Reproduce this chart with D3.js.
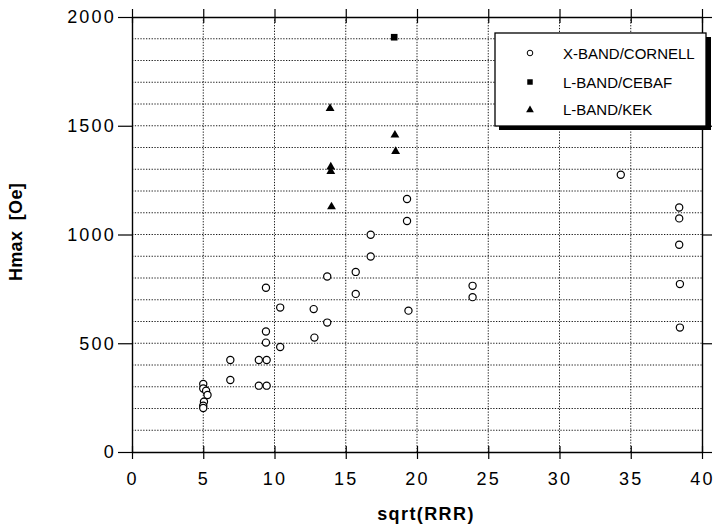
<!DOCTYPE html>
<html>
<head>
<meta charset="utf-8">
<script src="https://cdn.jsdelivr.net/npm/d3@7"></script>
<style>
  body { margin: 0; background: #fff; }
  text { font-family: "Liberation Sans", Arial, sans-serif; fill: #000; }
  .tick-label { font-size: 18px; letter-spacing: 2.2px; }
  .axis-title { font-size: 18px; font-weight: bold; letter-spacing: 1.4px; }
  .legend-text { font-size: 15px; }
</style>
</head>
<body>
<div id="chart"></div>
<script>
// series: sqrt(RRR) vs Hmax [Oe]
const cornellX = [5.0, 5.0, 5.2, 5.3, 5.05, 5.0, 5.0, 6.9, 6.9, 8.9, 9.45, 8.9, 9.45, 9.4, 9.4, 9.4,
  10.4, 10.4, 12.75, 12.8, 13.7, 13.7, 15.7, 15.7, 16.75, 16.75, 19.3, 19.3, 19.4, 23.9, 23.9,
  34.3, 38.4, 38.4, 38.4, 38.45, 38.45];
const cornellY = [313, 292, 282, 262, 231, 213, 202, 423, 331, 423, 423, 305, 305, 755, 554, 503,
  664, 483, 657, 526, 807, 595, 828, 727, 999, 899, 1163, 1062, 650, 764, 712,
  1275, 1124, 1074, 953, 772, 572];
const cebafX = [18.4];
const cebafY = [1907];
const kekX = [13.9, 13.95, 13.95, 14.0, 18.45, 18.5];
const kekY = [1584, 1315, 1295, 1132, 1462, 1387];

const xTicks = [0, 5, 10, 15, 20, 25, 30, 35, 40];
const yTicks = [0, 500, 1000, 1500, 2000];
const legendLabels = ["X-BAND/CORNELL", "L-BAND/CEBAF", "L-BAND/KEK"];

const W = 714, H = 525;
const x = d3.scaleLinear([0, 40], [132, 702]);
const y = d3.scaleLinear([0, 2000], [452, 17]);

const svg = d3.select("#chart").append("svg")
  .attr("width", W).attr("height", H);

// dotted grid
const grid = svg.append("g")
  .attr("stroke", "#000").attr("stroke-width", 0.9).attr("stroke-dasharray", "1.3,1.5");
grid.selectAll(".hg")
  .data(d3.range(100, 2000, 100))
  .enter().append("line")
  .attr("x1", x(0)).attr("x2", x(40))
  .attr("y1", d => y(d)).attr("y2", d => y(d));
grid.selectAll(".vg")
  .data(d3.range(5, 40, 5))
  .enter().append("line")
  .attr("x1", d => x(d)).attr("x2", d => x(d))
  .attr("y1", y(0)).attr("y2", y(2000));

// frame + axes
const xAxisB = d3.axisBottom(x).tickValues(xTicks).tickSizeInner(7).tickSizeOuter(0).tickPadding(13);
const xAxisT = d3.axisTop(x).tickValues(xTicks).tickSizeInner(8).tickSizeOuter(0).tickFormat("");
const yAxisL = d3.axisLeft(y).tickValues(yTicks).tickFormat(d3.format("d"))
  .tickSizeInner(14).tickSizeOuter(0).tickPadding(2);
const yAxisR = d3.axisRight(y).tickValues(yTicks).tickSizeInner(10).tickSizeOuter(0).tickFormat("");

function styleAxis(g) {
  g.attr("font-family", null).attr("font-size", null);
  g.select(".domain").attr("stroke", "#000").attr("stroke-width", 1.4);
  g.selectAll(".tick line").attr("stroke", "#000").attr("stroke-width", 1.2);
  g.selectAll(".tick text").attr("class", "tick-label").attr("fill", "#000");
}

svg.append("g").attr("transform", `translate(0,${y(0)})`).call(xAxisB).call(styleAxis)
  .selectAll(".tick line").attr("y1", -6);
svg.append("g").attr("transform", `translate(0,${y(2000)})`).call(xAxisT).call(styleAxis)
  .selectAll(".tick line").attr("y1", 6);
svg.append("g").attr("transform", `translate(${x(0)},0)`).call(yAxisL).call(styleAxis);
svg.append("g").attr("transform", `translate(${x(40)},0)`).call(yAxisR).call(styleAxis);

// axis titles
svg.append("text").attr("class", "axis-title")
  .attr("x", 426).attr("y", 520).attr("text-anchor", "middle").text("sqrt(RRR)");
svg.append("text").attr("class", "axis-title")
  .attr("transform", "translate(22,232) rotate(-90)").attr("text-anchor", "middle")
  .style("letter-spacing", "0.3px")
  .attr("xml:space", "preserve").text("Hmax  [Oe]");

// markers
const tri = d3.symbol().type(d3.symbolTriangle).size(34);
const sq = d3.symbol().type(d3.symbolSquare).size(44);

svg.append("g").selectAll("circle")
  .data(d3.zip(cornellX, cornellY))
  .enter().append("circle")
  .attr("cx", d => x(d[0])).attr("cy", d => y(d[1])).attr("r", 3.6)
  .attr("fill", "#fff").attr("stroke", "#000").attr("stroke-width", 1.2);

svg.append("g").selectAll("path")
  .data(d3.zip(cebafX, cebafY))
  .enter().append("path")
  .attr("d", sq).attr("transform", d => `translate(${x(d[0])},${y(d[1])})`)
  .attr("fill", "#000");

svg.append("g").selectAll("path")
  .data(d3.zip(kekX, kekY))
  .enter().append("path")
  .attr("d", tri).attr("transform", d => `translate(${x(d[0])},${y(d[1]) + 1})`)
  .attr("fill", "#000");

// legend
const lg = svg.append("g");
lg.append("rect").attr("x", 499).attr("y", 37).attr("width", 212).attr("height", 93).attr("fill", "#000");
lg.append("rect").attr("x", 495).attr("y", 33).attr("width", 211).attr("height", 93)
  .attr("fill", "#fff").attr("stroke", "#000").attr("stroke-width", 1.3);

const rows = [53, 82, 109];
lg.append("circle").attr("cx", 530).attr("cy", rows[0]).attr("r", 2.8)
  .attr("fill", "#fff").attr("stroke", "#000").attr("stroke-width", 1);
lg.append("path").attr("d", d3.symbol().type(d3.symbolSquare).size(30))
  .attr("transform", `translate(530,${rows[1]})`).attr("fill", "#000");
lg.append("path").attr("d", d3.symbol().type(d3.symbolTriangle).size(26))
  .attr("transform", `translate(530,${rows[2] + 1})`).attr("fill", "#000");

lg.selectAll(".legend-text")
  .data(legendLabels)
  .enter().append("text")
  .attr("class", "legend-text")
  .attr("x", 563).attr("y", (d, i) => rows[i] + 5.5)
  .text(d => d);
</script>
</body>
</html>
